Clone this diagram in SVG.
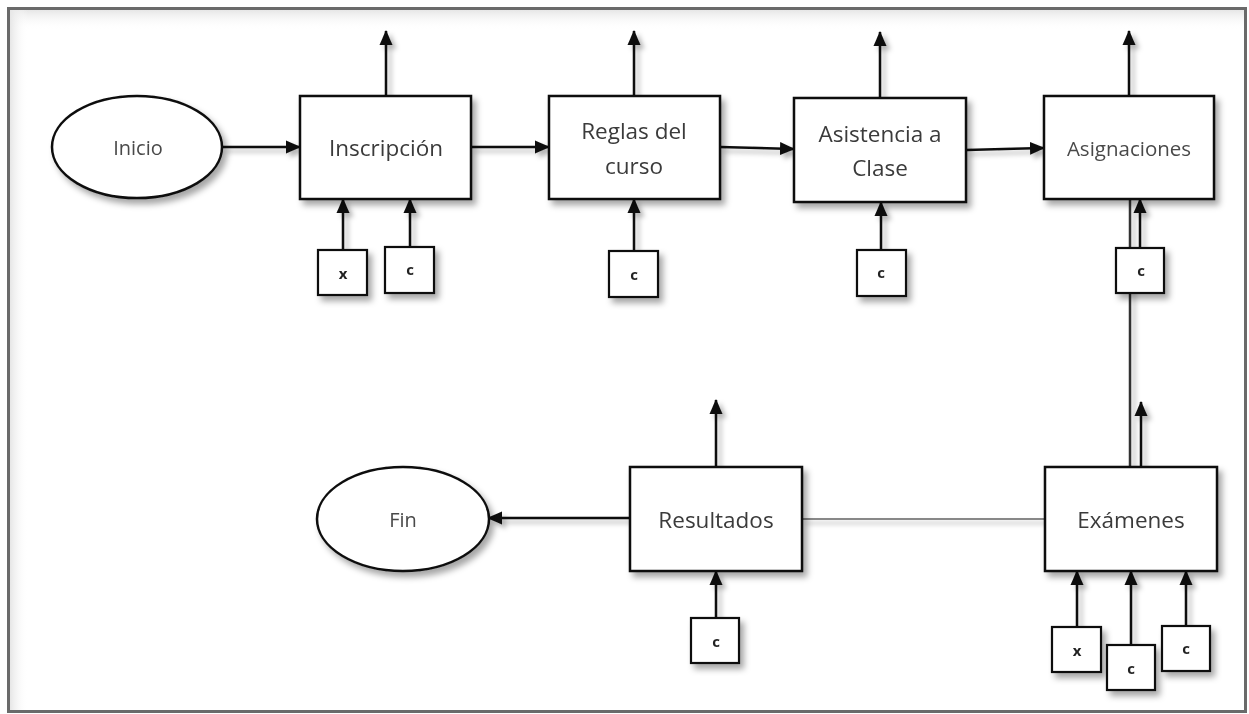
<svg xmlns="http://www.w3.org/2000/svg" width="1249" height="714" viewBox="0 0 1249 714">
<style>
.box{fill:#fff;stroke:#111;stroke-width:2.5}
.small{fill:#fff;stroke:#111;stroke-width:2.2}
.lbl{font-family:"Open Sans","Liberation Sans",sans-serif;font-size:22.5px;fill:#3a3a3a;text-anchor:middle;dominant-baseline:central}
.lt{font-family:"Open Sans","Liberation Sans",sans-serif;font-size:20px;fill:#4a4a4a;text-anchor:middle;dominant-baseline:central}
.sl{font-family:"Open Sans","Liberation Sans",sans-serif;font-size:15px;font-weight:bold;fill:#222;text-anchor:middle;dominant-baseline:central}
.ar{stroke:#111;stroke-width:2.5;fill:none;marker-end:url(#ah)}
</style>
<defs>
<marker id="ah" markerUnits="userSpaceOnUse" markerWidth="16" markerHeight="16" viewBox="0 0 16 16" refX="14" refY="8" orient="auto">
<path d="M0,1.5 L15,8 L0,14.5 Z" fill="#111"/>
</marker>
<filter id="sh" x="-20%" y="-20%" width="150%" height="160%">
<feDropShadow dx="4" dy="5" stdDeviation="3" flood-color="#000" flood-opacity="0.35"/>
</filter>
<filter id="lsh" x="-50%" y="-10%" width="300%" height="130%">
<feDropShadow dx="4" dy="4" stdDeviation="2.5" flood-color="#000" flood-opacity="0.3"/>
</filter>
<linearGradient id="gt" x1="0" y1="0" x2="0" y2="1">
<stop offset="0" stop-color="#e6e6e6"/><stop offset="1" stop-color="#fff" stop-opacity="0"/>
</linearGradient>
<linearGradient id="gl" x1="0" y1="0" x2="1" y2="0">
<stop offset="0" stop-color="#e6e6e6"/><stop offset="1" stop-color="#fff" stop-opacity="0"/>
</linearGradient>
</defs>
<rect width="1249" height="714" fill="#fff"/>
<g id="frame">
<rect x="10" y="10" width="1234" height="20" fill="url(#gt)"/>
<rect x="10" y="10" width="18" height="700" fill="url(#gl)"/>
<rect x="8.5" y="8.5" width="1237" height="703" fill="none" stroke="#6a6a6a" stroke-width="3"/>
</g>
<g id="connectors" filter="url(#lsh)">
<line class="ar" x1="222" y1="147" x2="300" y2="147"/>
<line class="ar" x1="471" y1="147" x2="549" y2="147"/>
<line class="ar" x1="720" y1="147" x2="794" y2="149"/>
<line class="ar" x1="966" y1="150" x2="1044" y2="148"/>
<line class="ar" x1="386" y1="96" x2="386" y2="31"/>
<line class="ar" x1="634" y1="96" x2="634" y2="31"/>
<line class="ar" x1="880" y1="98" x2="880" y2="32"/>
<line class="ar" x1="1129" y1="96" x2="1129" y2="31"/>
<line class="ar" x1="343" y1="250" x2="343" y2="199"/>
<line class="ar" x1="410" y1="247" x2="410" y2="199"/>
<line class="ar" x1="634" y1="251" x2="634" y2="199"/>
<line class="ar" x1="881" y1="250" x2="881" y2="202"/>
<line class="ar" x1="1140" y1="248" x2="1140" y2="199"/>
<line x1="1130" y1="467" x2="1130" y2="199" stroke="#333" stroke-width="2.5"/>
<line class="ar" x1="1141" y1="467" x2="1141" y2="402"/>
<line x1="1045" y1="519" x2="802" y2="519" stroke="#888" stroke-width="2"/>
<line class="ar" x1="630" y1="518" x2="488" y2="518"/>
<line class="ar" x1="716" y1="467" x2="716" y2="400"/>
<line class="ar" x1="716" y1="618" x2="716" y2="571"/>
<line class="ar" x1="1077" y1="627" x2="1077" y2="571"/>
<line class="ar" x1="1131" y1="645" x2="1131" y2="571"/>
<line class="ar" x1="1186" y1="626" x2="1186" y2="571"/>
</g>
<g id="inicio" filter="url(#sh)">
<ellipse class="box" cx="137" cy="147" rx="85" ry="51"/>
<text class="lt" x="138" y="147">Inicio</text>
</g>
<g id="inscripcion" filter="url(#sh)">
<rect class="box" x="300" y="96" width="171" height="103"/>
<text class="lbl" x="386" y="147">Inscripción</text>
</g>
<g id="reglas" filter="url(#sh)">
<rect class="box" x="549" y="96" width="171" height="103"/>
<text class="lbl" x="634" y="130">Reglas del</text>
<text class="lbl" x="634" y="165">curso</text>
</g>
<g id="asistencia" filter="url(#sh)">
<rect class="box" x="794" y="98" width="172" height="104"/>
<text class="lbl" x="880" y="133">Asistencia a</text>
<text class="lbl" x="880" y="167">Clase</text>
</g>
<g id="asignaciones" filter="url(#sh)">
<rect class="box" x="1044" y="96" width="170" height="103"/>
<text class="lbl" x="1129" y="148" style="font-size:20.5px;fill:#4a4a4a">Asignaciones</text>
</g>
<g id="examenes" filter="url(#sh)">
<rect class="box" x="1045" y="467" width="172" height="104"/>
<text class="lbl" x="1131" y="519">Exámenes</text>
</g>
<g id="resultados" filter="url(#sh)">
<rect class="box" x="630" y="467" width="172" height="104"/>
<text class="lbl" x="716" y="519">Resultados</text>
</g>
<g id="fin" filter="url(#sh)">
<ellipse class="box" cx="403" cy="519" rx="86" ry="52"/>
<text class="lt" x="403" y="519">Fin</text>
</g>
<g id="in-x1" filter="url(#sh)"><rect class="small" x="318" y="250" width="49" height="45"/><text class="sl" x="343" y="273">x</text></g>
<g id="in-c1" filter="url(#sh)"><rect class="small" x="385" y="247" width="49" height="46"/><text class="sl" x="410" y="269">c</text></g>
<g id="in-c2" filter="url(#sh)"><rect class="small" x="609" y="251" width="49" height="46"/><text class="sl" x="634" y="274">c</text></g>
<g id="in-c3" filter="url(#sh)"><rect class="small" x="857" y="250" width="49" height="46"/><text class="sl" x="881" y="272">c</text></g>
<g id="in-c4" filter="url(#sh)"><rect class="small" x="1116" y="248" width="48" height="45"/><text class="sl" x="1141" y="270">c</text></g>
<g id="in-c5" filter="url(#sh)"><rect class="small" x="691" y="618" width="48" height="45"/><text class="sl" x="716" y="641">c</text></g>
<g id="in-x2" filter="url(#sh)"><rect class="small" x="1052" y="627" width="49" height="45"/><text class="sl" x="1077" y="650">x</text></g>
<g id="in-c6" filter="url(#sh)"><rect class="small" x="1107" y="645" width="48" height="45"/><text class="sl" x="1131" y="668">c</text></g>
<g id="in-c7" filter="url(#sh)"><rect class="small" x="1162" y="626" width="48" height="45"/><text class="sl" x="1186" y="648">c</text></g>
</svg>
